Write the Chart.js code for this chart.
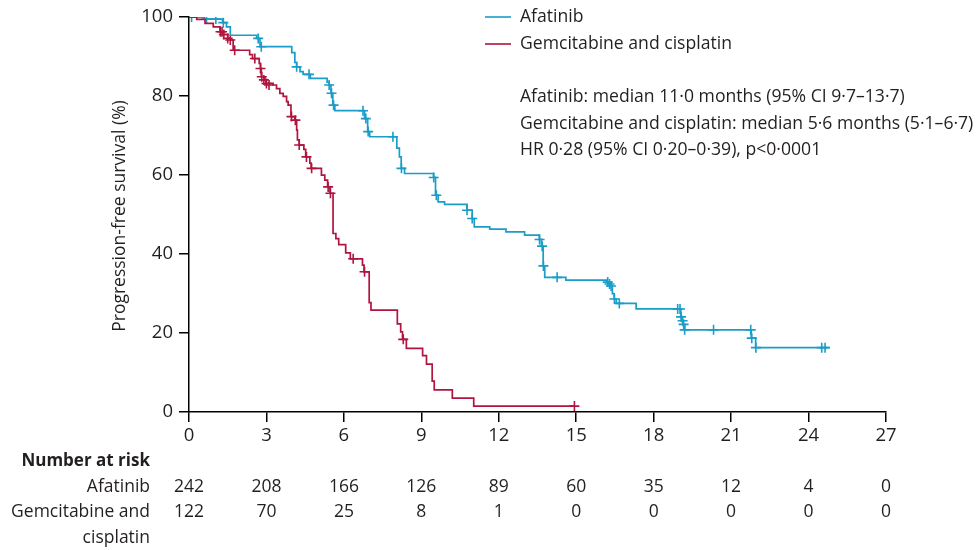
<!DOCTYPE html>
<html>
<head>
<meta charset="utf-8">
<script src="https://cdn.jsdelivr.net/npm/chart.js@4.4.1/dist/chart.umd.min.js"></script>
<style>
  html, body { margin: 0; padding: 0; background: #fff; }
  #wrap { width: 980px; height: 550px; position: relative; }
</style>
</head>
<body>
<div id="wrap"><canvas id="c" width="980" height="550"></canvas></div>
<script>
// ---- Data ----
const xTicks = [0, 3, 6, 9, 12, 15, 18, 21, 24, 27];
const yTicks = [0, 20, 40, 60, 80, 100];
const seriesNames = ['Afatinib', 'Gemcitabine and cisplatin'];

const afatinibTimes = [0, 0.6, 1.3, 1.45, 1.6, 2.62, 2.75, 3.98, 4.1, 4.17, 4.3, 4.42, 4.7, 5.35, 5.43, 5.5, 5.57, 5.65, 6.8, 6.92, 7.0, 8.05, 8.15, 8.22, 8.35, 9.47, 9.55, 9.65, 9.9, 10.77, 10.97, 11.05, 11.65, 12.28, 13.0, 13.57, 13.65, 13.72, 13.78, 14.6, 16.18, 16.27, 16.35, 16.4, 16.47, 16.55, 17.32, 19.05, 19.1, 19.14, 19.2, 21.78, 21.95, 24.8];
const afatinibSurv  = [100, 99.5, 98.6, 97.5, 95.4, 94.6, 92.5, 91.0, 88.5, 87.4, 86.2, 85.5, 84.5, 83.5, 82.8, 80.7, 77.7, 76.3, 74.3, 71.0, 69.7, 66.8, 64.6, 61.7, 60.4, 59.4, 54.9, 53.2, 52.6, 51.1, 49.0, 46.9, 46.3, 45.6, 44.8, 43.7, 42.0, 37.0, 34.1, 33.4, 32.9, 32.4, 31.9, 30.0, 28.6, 27.5, 26.1, 24.1, 23.1, 22.2, 20.8, 18.7, 16.3, 16.3];
const afatinibCensT = [0.1, 0.68, 1.04, 1.33, 2.68, 2.8, 4.17, 4.65, 5.43, 5.52, 5.6, 6.74, 6.85, 6.94, 7.9, 8.23, 9.48, 9.58, 10.77, 10.97, 13.58, 13.68, 13.73, 14.26, 16.22, 16.29, 16.35, 16.48, 16.67, 18.93, 19.02, 19.06, 19.12, 19.16, 19.2, 20.32, 21.76, 21.8, 21.96, 24.51, 24.64];
const afatinibCensS = [100, 99.5, 99.5, 98.6, 94.6, 92.5, 87.4, 85.5, 82.8, 80.7, 77.7, 76.3, 74.3, 71.0, 69.7, 61.7, 59.4, 54.9, 51.1, 49.0, 43.7, 42.0, 37.0, 34.1, 32.9, 32.4, 31.9, 28.6, 27.5, 26.1, 26.1, 24.1, 23.1, 22.2, 20.8, 20.8, 20.8, 18.7, 16.3, 16.3, 16.3];

const gemTimes = [0, 0.3, 0.62, 0.94, 1.2, 1.33, 1.5, 1.59, 1.71, 2.35, 2.46, 2.72, 2.77, 2.8, 2.94, 2.98, 3.26, 3.39, 3.52, 3.65, 3.78, 3.84, 3.95, 4.1, 4.17, 4.2, 4.27, 4.45, 4.52, 4.68, 4.73, 5.13, 5.26, 5.37, 5.46, 5.58, 5.69, 5.8, 6.07, 6.25, 6.72, 6.78, 6.98, 7.05, 8.07, 8.2, 8.27, 8.42, 9.05, 9.2, 9.42, 9.5, 10.2, 11.03, 14.93];
const gemSurv  = [100, 99.4, 98.4, 97.5, 96.3, 95.6, 94.6, 94.2, 91.6, 90.5, 89.5, 88.3, 87.0, 84.9, 84.1, 83.2, 82.8, 81.9, 80.7, 79.9, 78.6, 77.7, 74.8, 73.9, 71.4, 68.9, 67.6, 66.5, 64.6, 63.0, 61.7, 60.0, 58.7, 57.0, 55.4, 45.2, 43.9, 42.4, 40.3, 38.8, 37.2, 35.5, 27.7, 25.8, 22.3, 20.3, 18.4, 16.1, 14.3, 12.1, 7.8, 5.6, 3.5, 1.5, 1.5];
const gemCensT = [1.22, 1.28, 1.35, 1.5, 1.6, 1.77, 2.55, 2.77, 2.82, 2.9, 3.0, 3.1, 3.97, 4.12, 4.27, 4.55, 4.75, 5.39, 5.48, 6.36, 6.8, 8.3, 14.93];
const gemCensS = [96.3, 96.3, 95.6, 94.6, 94.2, 91.6, 89.5, 87.0, 84.9, 84.1, 83.2, 82.8, 74.8, 73.9, 67.6, 64.6, 61.7, 57.0, 55.4, 38.8, 35.5, 18.4, 1.5];

const riskTimes = [0, 3, 6, 9, 12, 15, 18, 21, 24, 27];
const riskAfatinib = [242, 208, 166, 126, 89, 60, 35, 12, 4, 0];
const riskGem = [122, 70, 25, 8, 1, 0, 0, 0, 0, 0];

const annotations = [
  'Afatinib: median 11·0 months (95% CI 9·7–13·7)',
  'Gemcitabine and cisplatin: median 5·6 months (5·1–6·7)',
  'HR 0·28 (95% CI 0·20–0·39), p<0·0001'
];

// ---- Styles ----
const BLUE = '#1a9dc8';
const RED = '#b0153f';
const TXT = '#231f20';
const FONT = '"Open Sans", sans-serif';

const zip = (xs, ys) => xs.map((x, i) => ({ x: x, y: ys[i] }));

const extras = {
  id: 'extras',
  afterDraw(chart) {
    const ctx = chart.ctx;
    const xs = chart.scales.x;
    ctx.save();
    // legend
    ctx.font = '17.6px ' + FONT;
    ctx.fillStyle = TXT;
    ctx.textBaseline = 'middle';
    ctx.textAlign = 'left';
    [[BLUE, 17], [RED, 44]].forEach(([c, y], i) => {
      ctx.strokeStyle = c; ctx.lineWidth = 1.6;
      ctx.beginPath(); ctx.moveTo(485, y); ctx.lineTo(511, y); ctx.stroke();
      ctx.fillText(seriesNames[i], 520, y);
    });
    annotations.forEach((t, i) => ctx.fillText(t, 520, 97 + i * 26.5));
    // y axis title
    ctx.save();
    ctx.font = '17.5px ' + FONT;
    ctx.translate(120, 216);
    ctx.rotate(-Math.PI / 2);
    ctx.textAlign = 'center';
    ctx.fillText('Progression-free survival (%)', 0, 0);
    ctx.restore();
    // number at risk
    ctx.font = 'bold 17px ' + FONT;
    ctx.textAlign = 'right';
    ctx.fillText('Number at risk', 150, 461);
    ctx.font = '17.5px ' + FONT;
    ctx.fillText('Afatinib', 150, 487);
    ctx.fillText('Gemcitabine and', 150, 512);
    ctx.fillText('cisplatin', 150, 538);
    ctx.textAlign = 'center';
    riskTimes.forEach((t, i) => {
      const px = xs.getPixelForValue(t);
      ctx.fillText(String(riskAfatinib[i]), px, 487);
      ctx.fillText(String(riskGem[i]), px, 512);
    });
    ctx.restore();
  }
};

new Chart(document.getElementById('c'), {
  type: 'scatter',
  data: {
    datasets: [
      { label: seriesNames[1], data: zip(gemTimes, gemSurv), showLine: true, stepped: true,
        borderColor: RED, borderWidth: 1.7, pointRadius: 0, fill: false },
      { label: seriesNames[0], data: zip(afatinibTimes, afatinibSurv), showLine: true, stepped: true,
        borderColor: BLUE, borderWidth: 1.7, pointRadius: 0, fill: false },
      { label: 'gem censored', data: zip(gemCensT, gemCensS), showLine: false,
        pointStyle: 'cross', pointRadius: 5, borderColor: RED, borderWidth: 1.6, backgroundColor: RED },
      { label: 'afa censored', data: zip(afatinibCensT, afatinibCensS), showLine: false,
        pointStyle: 'cross', pointRadius: 5, borderColor: BLUE, borderWidth: 1.6, backgroundColor: BLUE }
    ]
  },
  options: {
    responsive: false,
    animation: false,
    events: [],
    layout: { padding: { left: 110, right: 94, top: 17, bottom: 108 } },
    plugins: { legend: { display: false }, tooltip: { enabled: false } },
    scales: {
      x: {
        type: 'linear', min: 0, max: 27,
        afterBuildTicks: s => { s.ticks = xTicks.map(v => ({ value: v })); },
        afterFit: s => { s.height = 30; },
        ticks: { color: TXT, font: { family: FONT, size: 18.5 }, padding: 3, maxRotation: 0, autoSkip: false },
        grid: { drawOnChartArea: false, drawTicks: true, tickLength: 10, color: '#000', lineWidth: 1.5 },
        border: { color: '#000', width: 1.5 }
      },
      y: {
        min: 0, max: 100,
        afterBuildTicks: s => { s.ticks = yTicks.map(v => ({ value: v })); },
        afterFit: s => { s.width = 79; },
        ticks: { color: TXT, font: { family: FONT, size: 18.5 }, padding: 6 },
        grid: { drawOnChartArea: false, drawTicks: true, tickLength: 10, color: '#000', lineWidth: 1.5 },
        border: { color: '#000', width: 1.5 }
      }
    }
  },
  plugins: [extras]
});
</script>
</body>
</html>
